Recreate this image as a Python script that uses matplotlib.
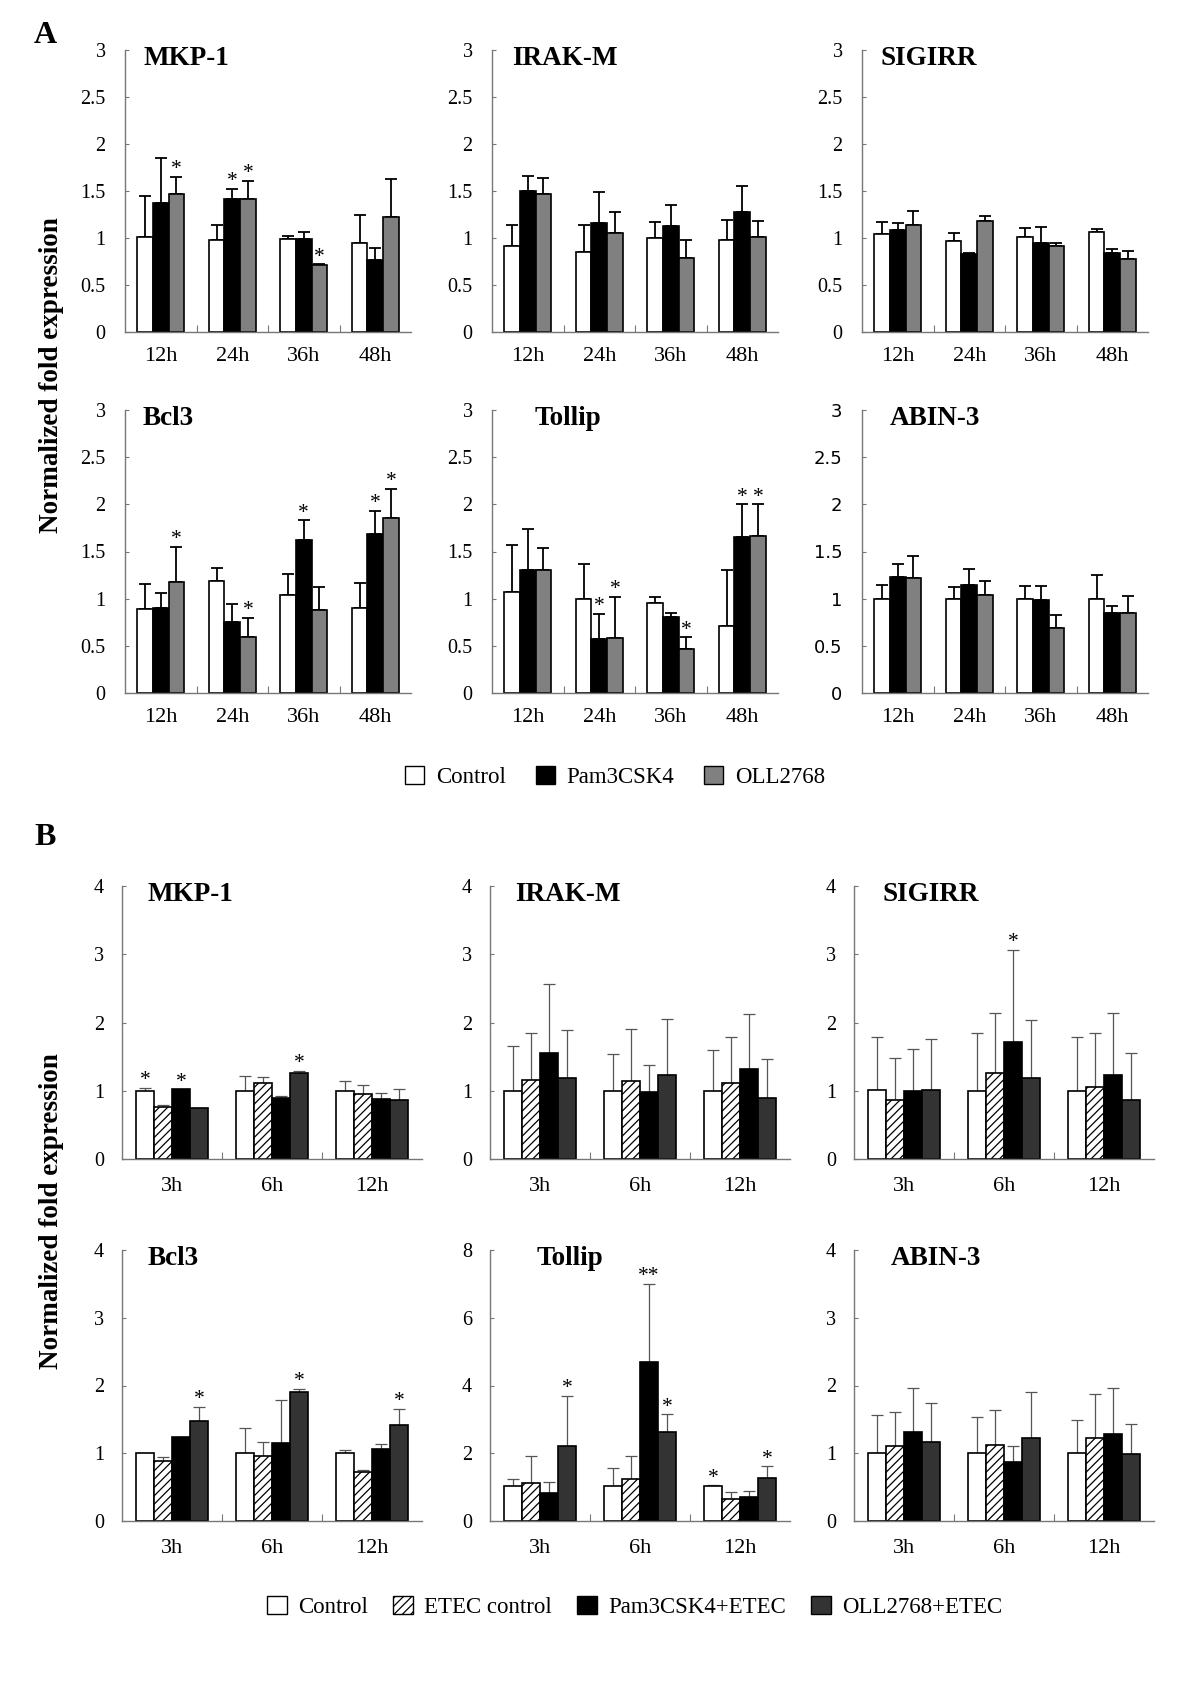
import matplotlib
matplotlib.use("Agg")
import matplotlib.pyplot as plt
from matplotlib.patches import Patch
from matplotlib.ticker import FuncFormatter
import numpy as np

plt.rcParams['font.family'] = ['Liberation Serif', 'DejaVu Serif']
plt.rcParams['hatch.linewidth'] = 0.9

# categories
times_a = ["12h", "24h", "36h", "48h"]
times_b = ["3h", "6h", "12h"]
groups_a = ["Control", "Pam3CSK4", "OLL2768"]
groups_b = ["Control", "ETEC control", "Pam3CSK4+ETEC", "OLL2768+ETEC"]
genes = ["MKP-1", "IRAK-M", "SIGIRR", "Bcl3", "Tollip", "ABIN-3"]

# ---- panel A: rows = Control, Pam3CSK4, OLL2768 ----
a_mkp1 = [[1.01, 0.98, 0.99, 0.95], [1.37, 1.42, 0.99, 0.77], [1.47, 1.42, 0.71, 1.22]]
a_mkp1_sd = [[0.44, 0.16, 0.03, 0.30], [0.48, 0.10, 0.07, 0.12], [0.18, 0.19, 0.01, 0.41]]
a_irakm = [[0.92, 0.85, 1.00, 0.98], [1.50, 1.16, 1.13, 1.28], [1.47, 1.05, 0.79, 1.01]]
a_irakm_sd = [[0.22, 0.29, 0.17, 0.21], [0.16, 0.33, 0.22, 0.27], [0.17, 0.23, 0.19, 0.17]]
a_sigirr = [[1.04, 0.97, 1.01, 1.06], [1.08, 0.83, 0.95, 0.84], [1.14, 1.18, 0.92, 0.78]]
a_sigirr_sd = [[0.13, 0.08, 0.10, 0.04], [0.08, 0.01, 0.17, 0.04], [0.15, 0.05, 0.03, 0.08]]
a_bcl3 = [[0.89, 1.19, 1.04, 0.90], [0.90, 0.75, 1.62, 1.69], [1.18, 0.59, 0.88, 1.85]]
a_bcl3_sd = [[0.27, 0.14, 0.22, 0.27], [0.16, 0.19, 0.21, 0.24], [0.37, 0.21, 0.24, 0.31]]
a_tollip = [[1.07, 1.00, 0.95, 0.71], [1.30, 0.57, 0.81, 1.65], [1.30, 0.58, 0.47, 1.66]]
a_tollip_sd = [[0.50, 0.37, 0.07, 0.59], [0.44, 0.27, 0.04, 0.35], [0.24, 0.44, 0.12, 0.34]]
a_abin3 = [[1.00, 1.00, 1.00, 1.00], [1.23, 1.15, 0.99, 0.85], [1.22, 1.04, 0.69, 0.85]]
a_abin3_sd = [[0.15, 0.12, 0.13, 0.25], [0.14, 0.16, 0.14, 0.07], [0.23, 0.15, 0.14, 0.18]]

# significance marks: (time index, group index, mark)
a_mkp1_sig = [(0, 2, "*"), (1, 1, "*"), (1, 2, "*"), (2, 2, "*")]
a_bcl3_sig = [(0, 2, "*"), (1, 2, "*"), (2, 1, "*"), (3, 1, "*"), (3, 2, "*")]
a_tollip_sig = [(1, 1, "*"), (1, 2, "*"), (2, 2, "*"), (3, 1, "*"), (3, 2, "*")]

# ---- panel B: rows = Control, ETEC control, Pam3CSK4+ETEC, OLL2768+ETEC ----
b_mkp1 = [[1.00, 1.00, 1.00], [0.76, 1.12, 0.95], [1.02, 0.90, 0.88], [0.75, 1.26, 0.87]]
b_mkp1_sd = [[0.04, 0.21, 0.14], [0.03, 0.08, 0.13], [0.0, 0.03, 0.08], [0.0, 0.03, 0.15]]
b_irakm = [[1.00, 1.00, 1.00], [1.16, 1.15, 1.11], [1.55, 0.98, 1.32], [1.19, 1.23, 0.90]]
b_irakm_sd = [[0.65, 0.54, 0.59], [0.69, 0.76, 0.68], [1.01, 0.40, 0.81], [0.70, 0.82, 0.56]]
b_sigirr = [[1.01, 1.00, 1.00], [0.87, 1.26, 1.06], [0.99, 1.72, 1.23], [1.01, 1.18, 0.87]]
b_sigirr_sd = [[0.78, 0.85, 0.79], [0.61, 0.88, 0.79], [0.62, 1.34, 0.91], [0.75, 0.86, 0.69]]
b_bcl3 = [[1.01, 1.01, 1.01], [0.89, 0.96, 0.73], [1.24, 1.15, 1.06], [1.48, 1.90, 1.42]]
b_bcl3_sd = [[0.0, 0.37, 0.04], [0.06, 0.20, 0.02], [0.0, 0.63, 0.08], [0.21, 0.05, 0.24]]
b_tollip = [[1.02, 1.02, 1.02], [1.13, 1.25, 0.66], [0.82, 4.69, 0.72], [2.20, 2.63, 1.28]]
b_tollip_sd = [[0.23, 0.54, 0.03], [0.78, 0.66, 0.20], [0.33, 2.30, 0.16], [1.50, 0.52, 0.33]]
b_abin3 = [[1.00, 1.00, 1.00], [1.10, 1.12, 1.22], [1.31, 0.87, 1.28], [1.17, 1.23, 0.99]]
b_abin3_sd = [[0.57, 0.54, 0.49], [0.51, 0.52, 0.65], [0.65, 0.24, 0.69], [0.57, 0.67, 0.44]]

b_mkp1_sig = [(0, 0, "*"), (0, 2, "*"), (1, 3, "*")]
b_sigirr_sig = [(1, 2, "*")]
b_bcl3_sig = [(0, 3, "*"), (1, 3, "*"), (2, 3, "*")]
b_tollip_sig = [(0, 3, "*"), (1, 2, "**"), (1, 3, "*"), (2, 0, "*"), (2, 3, "*")]

style_a = [dict(color="white"), dict(color="black"), dict(color="#808080")]
style_b = [dict(color="white"), dict(color="white", hatch="////"),
           dict(color="black"), dict(color="#333333")]

fig = plt.figure(figsize=(12, 16.98), dpi=100)
H = 1698.0
W = 1200.0


def make_ax(left, top, bottom, width):
    return fig.add_axes([left / W, 1 - bottom / H, width / W, (bottom - top) / H])


def draw_panel(ax, means, sds, sig, times, styles, width, ymax, ystep, title, title_dx,
               err_color, err_lw, sans_y=False, xpad=11, ypad=14):
    n = len(means)
    x = np.arange(len(times))
    for i in range(n):
        pos = x + (i - (n - 1) / 2) * width
        st = styles[i]
        ax.bar(pos, means[i], width, facecolor=st["color"], edgecolor="black",
               linewidth=1.2, hatch=st.get("hatch"), zorder=2)
        m = np.array(means[i])
        s = np.array(sds[i])
        keep = s > 0
        ax.errorbar(pos[keep], m[keep], yerr=[np.zeros(keep.sum()), s[keep]], fmt="none",
                    ecolor=err_color, elinewidth=err_lw, capsize=4, capthick=err_lw, zorder=1)
    for t, g, mark in sig:
        pos = t + (g - (n - 1) / 2) * width
        top = means[g][t] + sds[g][t]
        ax.annotate(mark, (pos, top), xytext=(0, 2), textcoords="offset points",
                    ha="center", va="baseline", fontsize=15.5)
    ax.set_xlim(-0.5, len(times) - 0.5)
    ax.set_ylim(0, ymax)
    ax.set_yticks(np.arange(0, ymax + 0.001, ystep))
    ax.yaxis.set_major_formatter(FuncFormatter(lambda v, p: "%g" % v))
    ax.set_xticks(np.arange(len(times) - 1) + 0.5)
    ax.set_xticklabels([])
    ax.set_xticks(x, minor=True)
    ax.set_xticklabels(times, minor=True, fontsize=16)
    ax.tick_params(axis="x", which="minor", length=0, pad=xpad)
    ax.tick_params(axis="x", which="major", direction="in", length=5, color="#777777")
    ax.tick_params(axis="y", direction="in", length=3, color="#777777", labelsize=14.5, pad=ypad)
    if sans_y:
        for lab in ax.get_yticklabels():
            lab.set_fontfamily("DejaVu Sans")
            lab.set_fontsize(13)
    for sp in ["top", "right"]:
        ax.spines[sp].set_visible(False)
    for sp in ["left", "bottom"]:
        ax.spines[sp].set_color("#777777")
        ax.spines[sp].set_linewidth(1.0)
    ax.text(title_dx / ax.get_position().width / W, 0.97, title, transform=ax.transAxes,
            fontsize=19.5, fontweight="bold", ha="left", va="center")


# panel A
a_data = [(a_mkp1, a_mkp1_sd, a_mkp1_sig), (a_irakm, a_irakm_sd, []),
          (a_sigirr, a_sigirr_sd, []), (a_bcl3, a_bcl3_sd, a_bcl3_sig),
          (a_tollip, a_tollip_sd, a_tollip_sig), (a_abin3, a_abin3_sd, [])]
a_lefts = [125, 492, 862]
a_rows = [(50, 332), (410, 693)]
a_title_dx = [18, 20, 18, 18, 43, 28]
for k, (m, s, sig) in enumerate(a_data):
    top, bot = a_rows[k // 3]
    ax = make_ax(a_lefts[k % 3], top, bot, 286)
    draw_panel(ax, m, s, sig, times_a, style_a, 0.22, 3, 0.5, genes[k], a_title_dx[k],
               "black", 1.3, sans_y=(k == 5))

# panel B
b_data = [(b_mkp1, b_mkp1_sd, b_mkp1_sig, 4, 1), (b_irakm, b_irakm_sd, [], 4, 1),
          (b_sigirr, b_sigirr_sd, b_sigirr_sig, 4, 1), (b_bcl3, b_bcl3_sd, b_bcl3_sig, 4, 1),
          (b_tollip, b_tollip_sd, b_tollip_sig, 8, 2), (b_abin3, b_abin3_sd, [], 4, 1)]
b_lefts = [122, 490, 854]
b_rows = [(886, 1159), (1250, 1521)]
b_title_dx = [25, 25, 29, 26, 47, 37]
for k, (m, s, sig, ymax, step) in enumerate(b_data):
    top, bot = b_rows[k // 3]
    ax = make_ax(b_lefts[k % 3], top, bot, 300)
    draw_panel(ax, m, s, sig, times_b, style_b, 0.18, ymax, step, genes[k], b_title_dx[k],
               "#555555", 0.9, xpad=13, ypad=13)

# shared labels
fig.text(0.0425, 0.779, "Normalized fold expression", rotation=90, fontsize=19.5,
         fontweight="bold", ha="center", va="center")
fig.text(0.0425, 0.287, "Normalized fold expression", rotation=90, fontsize=19.5,
         fontweight="bold", ha="center", va="center")
fig.text(0.038, 0.979, "A", fontsize=23, fontweight="bold", ha="center", va="center")
fig.text(0.038, 0.507, "B", fontsize=23, fontweight="bold", ha="center", va="center")

# legends
h_a = [Patch(facecolor=st["color"], edgecolor="black", linewidth=1.0) for st in style_a]
fig.legend(h_a, groups_a, loc="center", bbox_to_anchor=(0.5125, 0.5424), ncol=3,
           frameon=False, fontsize=16.5, handlelength=0.85, handleheight=0.85,
           handletextpad=0.5, columnspacing=1.3)
h_b = [Patch(facecolor=st["color"], edgecolor="black", linewidth=1.0, hatch=st.get("hatch"))
       for st in style_b]
fig.legend(h_b, groups_b, loc="center", bbox_to_anchor=(0.529, 0.0536), ncol=4,
           frameon=False, fontsize=16.5, handlelength=0.85, handleheight=0.85,
           handletextpad=0.5, columnspacing=1.1)

fig.savefig("out.png", dpi=100)
